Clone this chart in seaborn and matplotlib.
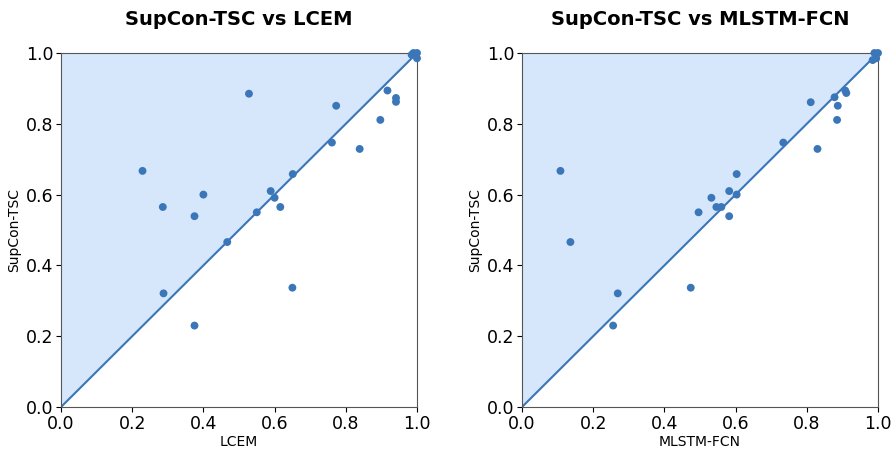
import matplotlib
matplotlib.use("Agg")
import matplotlib.pyplot as plt
import seaborn as sns
import numpy as np
import pandas as pd

sns.set_style("ticks")
plt.rcParams['font.family'] = ['DejaVu Sans']
plt.rcParams['text.color'] = 'black'
plt.rcParams['axes.labelcolor'] = 'black'
plt.rcParams['xtick.color'] = 'black'
plt.rcParams['ytick.color'] = 'black'

# SupCon-TSC accuracy (y) vs competitor (x)
lcem_x = [0.229, 0.528, 0.773, 0.917, 0.941, 0.941, 0.897, 0.761, 0.839, 0.651,
          0.589, 0.600, 0.616, 0.400, 0.286, 0.375, 0.550, 0.467, 0.288, 0.375,
          0.650, 0.990, 1.000, 1.000, 0.985]
lcem_y = [0.667, 0.885, 0.851, 0.894, 0.873, 0.862, 0.811, 0.747, 0.729, 0.658,
          0.610, 0.591, 0.565, 0.600, 0.565, 0.539, 0.550, 0.466, 0.321, 0.230,
          0.337, 1.000, 1.000, 0.985, 0.995]

mlstm_x = [0.108, 0.136, 0.269, 0.256, 0.474, 0.496, 0.532, 0.546, 0.560, 0.582,
           0.582, 0.603, 0.603, 0.734, 0.811, 0.830, 0.878, 0.887, 0.885, 0.908,
           0.911, 0.990, 1.000, 0.995, 0.985]
mlstm_y = [0.667, 0.466, 0.321, 0.230, 0.337, 0.550, 0.591, 0.565, 0.565, 0.539,
           0.610, 0.658, 0.600, 0.747, 0.861, 0.729, 0.875, 0.851, 0.811, 0.894,
           0.887, 1.000, 1.000, 0.985, 0.980]

panels = [("LCEM", lcem_x, lcem_y), ("MLSTM-FCN", mlstm_x, mlstm_y)]
ylabel = "SupCon-TSC"
ticks = [0.0, 0.2, 0.4, 0.6, 0.8, 1.0]

point_color = "#3a76b8"
fill_color = "#d6e6fb"

fig = plt.figure(figsize=(8.94, 4.5), dpi=100)
axes = [fig.add_axes([61/894, 1-407/450, 356/894, 354/450]),
        fig.add_axes([522/894, 1-407/450, 356/894, 354/450])]

for ax, (name, xs, ys) in zip(axes, panels):
    df = pd.DataFrame({name: xs, ylabel: ys})
    ax.fill_between([0, 1], [0, 1], [1, 1], color=fill_color, zorder=0, linewidth=0)
    sns.lineplot(x=[0, 1], y=[0, 1], ax=ax, color=point_color, linewidth=1.5, zorder=1)
    sns.scatterplot(data=df, x=name, y=ylabel, ax=ax, color=point_color, s=32,
                    edgecolor="none", zorder=3, clip_on=False)
    ax.set_xlim(0, 1)
    ax.set_ylim(0, 1)
    ax.set_xticks(ticks)
    ax.set_yticks(ticks)
    ax.tick_params(labelsize=12.5, length=3.5, width=0.8, pad=2)
    ax.set_xlabel(name, fontsize=10, labelpad=2)
    ax.set_ylabel(ylabel, fontsize=10, labelpad=3)
    ax.set_title(f"SupCon-TSC vs {name}", fontsize=14, fontweight="bold", pad=20)
    for sp in ax.spines.values():
        sp.set_visible(True)
        sp.set_color("#555555")
        sp.set_linewidth(0.8)

fig.savefig("out.png", dpi=100)
